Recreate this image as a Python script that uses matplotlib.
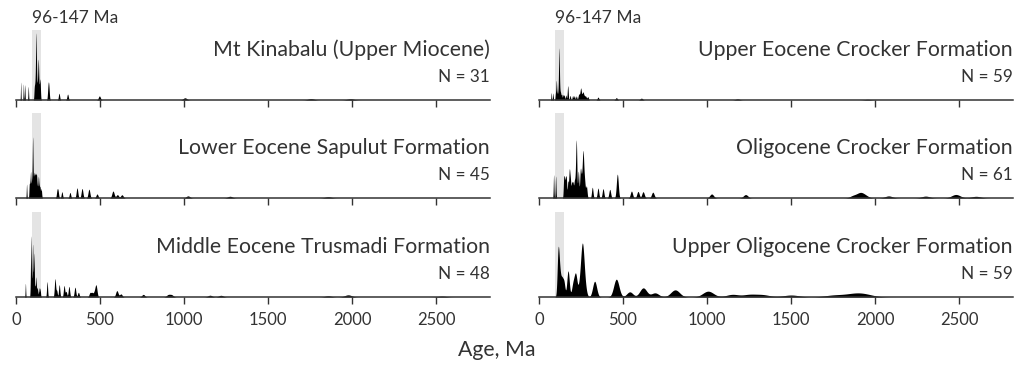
"""
Detrital zircon U-Pb age spectra for six Sabah samples, 0-2800 Ma.
Output: out.png
"""

import numpy as np
import matplotlib.pyplot as plt

plt.rcParams['font.family'] = ['Lato', 'DejaVu Sans']

# ── Data: grain ages (Ma) and number of grains at that age
kinabalu_age = [28, 44, 52, 73, 109, 113, 116, 119, 121, 124, 128, 131, 133, 138,
                143, 190, 193, 196, 256, 307, 496, 1005, 1755, 1990]
kinabalu_n = [1, 1, 1, 1, 1, 1, 1, 5, 1, 1, 1, 1, 3, 1,
              2, 1, 1, 1, 1, 1, 1, 1, 1, 1]

sapulut_age = [63, 79, 83, 87, 92, 95, 99, 103, 107, 112, 117, 122, 127, 133, 138,
               143, 150, 244, 250, 273, 321, 363, 393, 434, 482, 577, 603, 630,
               1023, 1273, 1857]
sapulut_n = [1, 1, 1, 2, 1, 1, 5, 1, 2, 2, 2, 2, 1, 2, 1,
             1, 1, 1, 1, 1, 1, 2, 2, 2, 1, 2, 1, 1,
             1, 1, 1]

trusmadi_age = [56, 86, 89, 94, 97, 99, 103, 107, 113, 119, 126, 135, 143, 185, 230,
                233, 242, 257, 286, 298, 315, 351, 371, 440, 452, 465, 476, 600,
                624, 757, 905, 925, 1154, 1219, 1857, 1976, 2534]
trusmadi_n = [1, 1, 5, 1, 1, 4, 1, 4, 1, 2, 1, 1, 1, 2, 1,
              2, 1, 2, 2, 1, 2, 2, 1, 1, 1, 1, 3, 2,
              1, 1, 1, 1, 1, 1, 1, 2, 1]

crocker_ue_age = [73, 83, 98, 103, 108, 113, 116, 119, 122, 125, 129, 135, 143, 150,
                  160, 171, 185, 200, 210, 222, 235, 240, 248, 255, 262, 270, 278,
                  290, 351, 460, 609, 1181, 1955]
crocker_ue_n = [1, 1, 1, 3, 1, 1, 1, 8, 1, 1, 1, 1, 1, 1,
                1, 3, 1, 1, 1, 1, 1, 1, 3, 1, 2, 1, 1,
                1, 1, 1, 1, 1, 1]

crocker_ol_age = [87, 99, 147, 152, 158, 163, 172, 179, 182, 187, 195, 202, 210, 216,
                  222, 234, 246, 252, 257, 262, 267, 272, 282, 317, 351, 381, 421,
                  466, 550, 589, 619, 677, 1027, 1229, 1870, 1910, 1940, 2080, 2300,
                  2480, 2600]
crocker_ol_n = [1, 1, 1, 1, 1, 1, 1, 1, 1, 1, 1, 1, 1, 1,
                4, 2, 2, 1, 1, 3, 1, 1, 1, 1, 1, 1, 1,
                3, 1, 1, 1, 1, 1, 1, 1, 2, 1, 1, 1,
                2, 1]

crocker_uo_age = [113, 118, 125, 136, 148, 173, 202, 218, 242, 258, 272, 331, 460,
                  540, 620, 690, 810, 1006, 1150, 1250, 1330, 1500, 1750, 1850, 1920]
crocker_uo_n = [2, 1, 1, 1, 1, 2, 1, 2, 1, 5, 1, 2, 3,
                1, 2, 1, 2, 2, 1, 1, 1, 1, 1, 1, 2]

titles = ["Mt Kinabalu (Upper Miocene)", "Lower Eocene Sapulut Formation",
          "Middle Eocene Trusmadi Formation", "Upper Eocene Crocker Formation",
          "Oligocene Crocker Formation", "Upper Oligocene Crocker Formation"]
n_grains = [31, 45, 48, 59, 61, 59]
samples = [(kinabalu_age, kinabalu_n), (sapulut_age, sapulut_n),
           (trusmadi_age, trusmadi_n), (crocker_ue_age, crocker_ue_n),
           (crocker_ol_age, crocker_ol_n), (crocker_uo_age, crocker_uo_n)]
# 1-sigma age error model: relative part and absolute floor (Ma)
rel_err = [0.01, 0.01, 0.01, 0.01, 0.01, 0.03]
abs_err = [1.1, 1.1, 1.1, 1.1, 1.1, 2.0]
band = (96, 147)
xticks = [0, 500, 1000, 1500, 2000, 2500]

# ── Layout (pixels on a 1021 x 369 canvas) ──────────────────────────────────
W, H = 1021, 369
col_left = [16, 539]
row_base = [100, 198, 297]
ax_w, ax_h = 474, 85
peak_px = [67, 61, 61, 52, 58, 54]
ink = "#333333"

t = np.arange(0, 2820.25, 0.25)


def pdp(ages, counts, rel, floor):
    a = np.asarray(ages, float)[:, None]
    k = np.asarray(counts, float)[:, None]
    s = rel * a + floor
    d = k * np.exp(-0.5 * ((t[None, :] - a) / s) ** 2) / (s * np.sqrt(2 * np.pi))
    return d.sum(axis=0)


fig = plt.figure(figsize=(W / 100, H / 100), dpi=100)

for i, (ages, counts) in enumerate(samples):
    col, row = divmod(i, 3)
    ax = fig.add_axes([col_left[col] / W, (H - row_base[row]) / H, ax_w / W, ax_h / H])
    y = pdp(ages, counts, rel_err[i], abs_err[i])

    top = 70 / ax_h if row == 0 else 1.0
    ax.axvspan(*band, ymin=0, ymax=top, color="#e4e4e4", lw=0, zorder=0)
    ax.fill_between(t, 0, y, color="black", lw=0, zorder=2)

    ax.set_xlim(0, 2820)
    ax.set_ylim(0, y.max() * ax_h / peak_px[i])
    ax.set_yticks([])
    ax.set_xticks(xticks)
    for s in ("top", "left", "right"):
        ax.spines[s].set_visible(False)
    ax.spines["bottom"].set_color(ink)
    ax.spines["bottom"].set_linewidth(1.1)
    ax.tick_params(axis="x", direction="out", length=5, width=1, color=ink,
                   labelsize=12, labelcolor=ink, pad=6, labelbottom=(row == 2))
    ax.patch.set_alpha(0)

    ax.text(1.0, 50 / ax_h, titles[i], transform=ax.transAxes, ha="right",
            va="center", fontsize=15.3, color=ink)
    ax.text(1.0, 23 / ax_h, f"N = {n_grains[i]}", transform=ax.transAxes,
            ha="right", va="center", fontsize=12.3, color=ink)
    if row == 0:
        ax.text(band[0], 82 / ax_h, "96-147 Ma", transform=ax.get_xaxis_transform(),
                ha="left", va="center", fontsize=12.5, color=ink)

fig.text(497 / W, (H - 350) / H, "Age, Ma", ha="center", va="center",
         fontsize=15.3, color=ink)

fig.savefig("out.png", dpi=100)
